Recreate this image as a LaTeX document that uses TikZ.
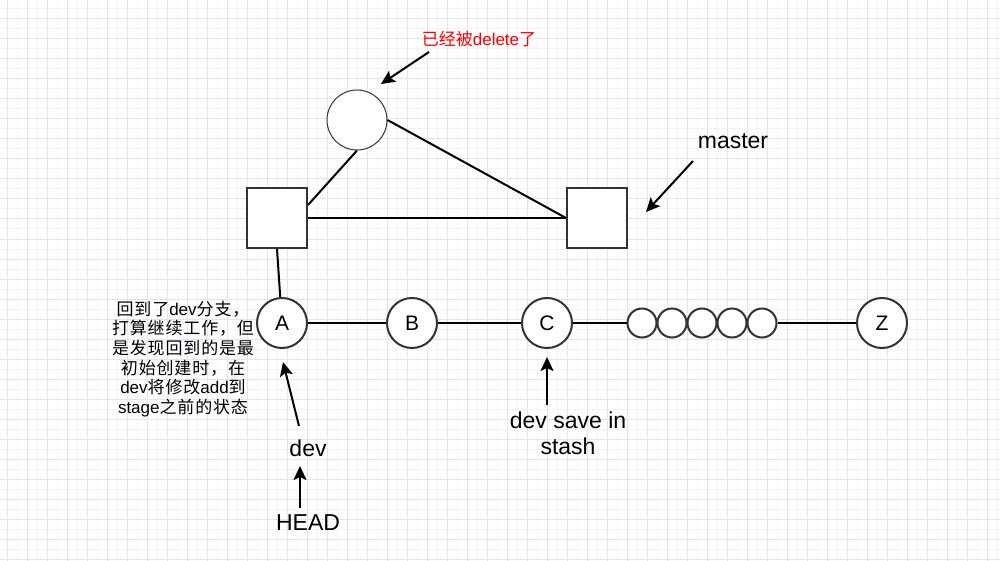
\documentclass[tikz,border=0pt]{standalone}
\usepackage{fontspec}
\setmainfont{Liberation Sans}
\newfontfamily\cjk{Noto Sans CJK SC}
\newfontfamily\cjkw[LetterSpace=5]{Noto Sans CJK SC}
\usetikzlibrary{arrows.meta}
\definecolor{gridminor}{RGB}{243,243,248}
\definecolor{gridmajor}{RGB}{229,227,244}
\definecolor{ink}{RGB}{51,51,51}
\begin{document}
\begin{tikzpicture}[x=1pt,y=-1pt,
 bigc/.style={circle,draw=ink,line width=2pt,minimum size=50pt,inner sep=0pt,fill=white,font=\fontsize{21}{25}\selectfont},
 smallc/.style={circle,draw=ink,line width=2pt,minimum size=29pt,inner sep=0pt,fill=white},
 topc/.style={circle,draw=ink,line width=1pt,minimum size=60pt,inner sep=0pt,fill=white},
 sq/.style={rectangle,draw=ink,line width=2pt,minimum size=60pt,inner sep=0pt,fill=white},
 conn/.style={line width=2pt,black},
 arr/.style={line width=2pt,black,-{Stealth[length=14pt,width=13pt,inset=3pt]}},
 lbl/.style={font=\fontsize{23}{26}\selectfont,inner sep=0pt,align=center},
 small/.style={font=\fontsize{17}{19.6}\selectfont,inner sep=0pt,align=center},
]
\useasboundingbox (0,0) rectangle (1000,561);
\fill[white] (0,0) rectangle (1000,561);
% grid
\foreach \x in {7,17,...,997} \draw[gridminor,line width=1pt] (\x,0) -- (\x,561);
\foreach \y in {9,19,...,559} \draw[gridminor,line width=1pt] (0,\y) -- (1000,\y);
\foreach \x in {7,27,...,997} \draw[gridmajor,line width=1pt] (\x,0) -- (\x,561);
\foreach \y in {19,39,...,559} \draw[gridmajor,line width=1pt] (0,\y) -- (1000,\y);

% top structure
\node[topc] (T) at (357,120) {};
\node[sq] (S1) at (277,218) {};
\node[sq] (S2) at (597,218) {};

% commits
\node[bigc] (A) at (282,323) {A};
\node[bigc] (B) at (412,323) {B};
\node[bigc] (C) at (547,323) {C};
\node[smallc] (s1) at (642,323) {};
\node[smallc] (s2) at (672,323) {};
\node[smallc] (s3) at (702,323) {};
\node[smallc] (s4) at (732,323) {};
\node[smallc] (s5) at (762,323) {};
\node[bigc] (Z) at (882,323) {Z};

% connectors
\draw[conn] (T.south) -- ([yshift=13pt]S1.east);
\draw[conn] (S1.east) -- (S2.west);
\draw[conn] (T.east) -- (S2.west);
\draw[conn] (S1.south) -- (A);
\draw[conn] (A) -- (B);
\draw[conn] (B) -- (C);
\draw[conn] (C) -- (s1);
\draw[conn] (s5) -- (Z);

% labels
\node[font=\fontsize{17}{20}\selectfont,inner sep=0pt,anchor=base,text=red] (deleted) at (479,46) {{\cjk 已经被}delete{\cjk 了}};
\node[lbl,anchor=base] (master) at (733,149) {master};
\node[lbl,anchor=base] (dev) at (308,456) {dev};
\node[lbl,anchor=base] (head) at (308,530) {HEAD};
\node[lbl] (stash) at (568,433) {dev save in\\stash};
\node[small] (note) at (183,359) {{\cjkw 回到了}dev{\cjkw 分支，}\\{\cjkw 打算继续工作，但}\\{\cjkw 是发现回到的是最}\\{\cjkw 初始创建时，在}\\dev{\cjkw 将修改}add{\cjkw 到}\\stage{\cjkw 之前的状态}};

% arrows
\coordinate (redtail) at (429,52);
\coordinate (redtip) at (381,84);
\coordinate (mtail) at (693,161);
\coordinate (mtip) at (646,212);
\coordinate (atail) at (299,426);
\coordinate (atip) at (283,362);
\coordinate (htail) at (300,508);
\coordinate (htip) at (300,466);
\coordinate (ctail) at (547,405);
\coordinate (ctip) at (547,357);
\draw[arr] (redtail) -- (redtip);
\draw[arr] (mtail) -- (mtip);
\draw[arr] (atail) -- (atip);
\draw[arr] (htail) -- (htip);
\draw[arr] (ctail) -- (ctip);
\end{tikzpicture}
\end{document}
